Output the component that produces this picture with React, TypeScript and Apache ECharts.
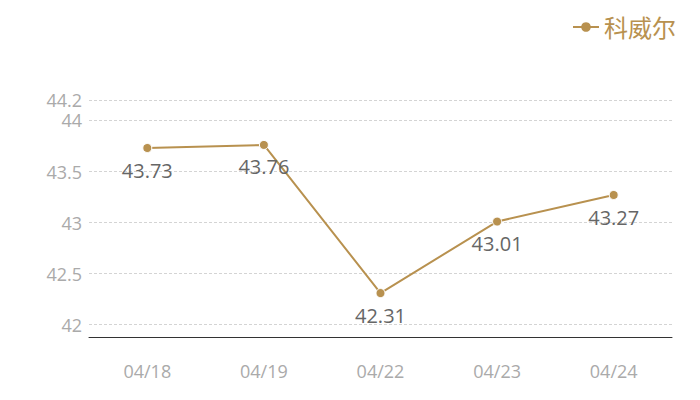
import React, { useEffect, useRef } from "react";
import * as echarts from "echarts";

const categories = ["04/18", "04/19", "04/22", "04/23", "04/24"];
const values = [43.73, 43.76, 42.31, 43.01, 43.27];
const seriesName = "科威尔";
const yMin = 41.88;
const yMax = 44.2;

export default function App() {
  const ref = useRef<HTMLDivElement>(null);
  useEffect(() => {
    const chart = echarts.init(ref.current!, undefined, { renderer: "svg" });
    const font = "'Open Sans', 'Noto Sans CJK SC', sans-serif";
    chart.setOption({
      animation: false,
      textStyle: { fontFamily: font },
      legend: {
        right: 11,
        top: 2,
        itemWidth: 26,
        itemHeight: 12,
        itemGap: 4,
        itemStyle: { borderWidth: 0 },
        textStyle: { color: "#b8914f", fontSize: 24, fontFamily: font },
        data: [seriesName],
      },
      grid: { left: 81, right: 20, top: 92, bottom: 55 },
      xAxis: {
        type: "category",
        data: categories,
        axisLine: { lineStyle: { color: "#333" } },
        axisTick: { show: false },
        axisLabel: { color: "#aaa", fontSize: 18, margin: 25, fontFamily: font },
      },
      yAxis: {
        type: "value",
        min: yMin,
        max: yMax,
        axisLine: { show: false },
        axisTick: { show: false },
        axisLabel: { color: "#aaa", fontSize: 18, margin: 7, showMinLabel: false, fontFamily: font },
        splitLine: { lineStyle: { color: "#d4d4d4", type: [3, 2], width: 1 } },
      },
      series: [
        {
          name: seriesName,
          type: "line",
          data: values,
          symbol: "circle",
          symbolSize: 9,
          itemStyle: { color: "#b8914f", borderColor: "#fff", borderWidth: 1 },
          lineStyle: { color: "#b8914f", width: 2 },
          label: {
            show: true,
            position: "bottom",
            distance: 7,
            color: "#666",
            fontSize: 20,
            fontFamily: font,
          },
        },
      ],
    });
    return () => chart.dispose();
  }, []);
  return <div ref={ref} style={{ width: 684, height: 384 }} />;
}
